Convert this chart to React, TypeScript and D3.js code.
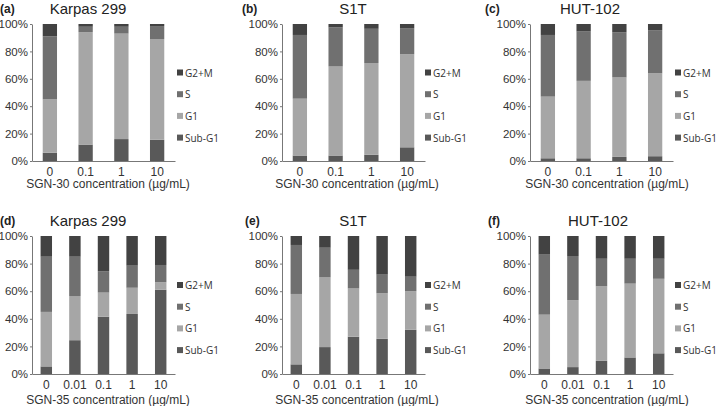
import { useEffect, useRef } from 'react'
import * as d3 from 'd3'

// cell-cycle phases, bottom of the stack first
const phases = ['Sub-G1', 'G1', 'S', 'G2+M']
const phaseColors = ['#595959', '#a6a6a6', '#707070', '#424242']

const conc30 = ['0', '0.1', '1', '10']
const conc35 = ['0', '0.01', '0.1', '1', '10']

// % of cells per phase [Sub-G1, G1, S, G2+M] for each concentration
const karpas30 = [
  [6, 39, 46, 9],
  [12, 82, 4, 2],
  [16, 77, 5, 2],
  [15.5, 73.5, 9.5, 1.5],
]
const s1t30 = [
  [4, 41.5, 46.5, 8],
  [4, 65, 28.5, 2.5],
  [4.5, 67, 25, 3.5],
  [10, 68, 19, 3],
]
const hut30 = [
  [2, 45, 45, 8],
  [2, 56.5, 36, 5.5],
  [3, 58, 33, 6],
  [3.5, 60.5, 31.5, 4.5],
]
const karpas35 = [
  [5.5, 39.5, 40, 15],
  [24.5, 32, 28.5, 15],
  [41.5, 17.5, 15.5, 25.5],
  [43.5, 19, 16, 21.5],
  [61, 5.5, 12.5, 21],
]
const s1t35 = [
  [7, 51, 35.5, 6.5],
  [19.5, 50.5, 21.5, 8.5],
  [27, 35, 13.5, 24.5],
  [25.5, 33, 13.5, 28],
  [32, 28, 10.5, 29.5],
]
const hut35 = [
  [4, 39, 43.5, 13.5],
  [5, 48.5, 32, 14.5],
  [9.5, 54, 20, 16.5],
  [12, 53.5, 18, 16.5],
  [15, 54, 14.5, 16.5],
]

const yTicks = [0, 20, 40, 60, 80, 100]

const panels = [
  { tag: '(a)', title: 'Karpas 299', drug: 'SGN-30', cats: conc30, values: karpas30 },
  { tag: '(b)', title: 'S1T', drug: 'SGN-30', cats: conc30, values: s1t30 },
  { tag: '(c)', title: 'HUT-102', drug: 'SGN-30', cats: conc30, values: hut30 },
  { tag: '(d)', title: 'Karpas 299', drug: 'SGN-35', cats: conc35, values: karpas35 },
  { tag: '(e)', title: 'S1T', drug: 'SGN-35', cats: conc35, values: s1t35 },
  { tag: '(f)', title: 'HUT-102', drug: 'SGN-35', cats: conc35, values: hut35 },
]

// placement of each panel on the page
const layout = [
  { left: 32, right: 175, top: 24, bottom: 161, tagX: 0, titleX: 88, titleY: 14, xTitleY: 188, xTitleX: 108, legX: 177 },
  { left: 282, right: 425, top: 24, bottom: 161, tagX: 242, titleX: 353, titleY: 14, xTitleY: 188, xTitleX: 357, legX: 425 },
  { left: 530, right: 673, top: 24, bottom: 161, tagX: 485, titleX: 590, titleY: 14, xTitleY: 188, xTitleX: 607, legX: 675 },
  { left: 32, right: 175, top: 236, bottom: 374, tagX: 0, titleX: 88, titleY: 226, xTitleY: 404, xTitleX: 108, legX: 177 },
  { left: 282, right: 425, top: 236, bottom: 374, tagX: 245, titleX: 353, titleY: 226, xTitleY: 404, xTitleX: 357, legX: 425 },
  { left: 530, right: 673, top: 236, bottom: 374, tagX: 488, titleX: 598, titleY: 226, xTitleY: 404, xTitleX: 607, legX: 675 },
]

const FONT = '"Liberation Sans", Arial, sans-serif'
const LEGEND_FONT = '"Open Sans", "Noto Sans", sans-serif'

export default function App() {
  const svgRef = useRef<SVGSVGElement>(null)

  useEffect(() => {
    if (!svgRef.current) return
    const root = d3.select(svgRef.current)
    root.selectAll('*').remove()

    panels.forEach((p, i) => {
      const L = layout[i]
      const g = root.append('g')

      const x = d3
        .scaleBand()
        .domain(p.cats)
        .range([L.left, L.right])
        .paddingInner(0.6)
        .paddingOuter(0.3)
      const y = d3.scaleLinear().domain([0, 100]).range([L.bottom, L.top])

      const rows = p.values.map((v, j) => {
        const r: Record<string, number | string> = { cat: p.cats[j] }
        phases.forEach((ph, k) => (r[ph] = v[k]))
        return r
      })
      const series = d3.stack<Record<string, number | string>>().keys(phases)(rows)

      series.forEach((s, k) => {
        g.append('g')
          .attr('fill', phaseColors[k])
          .selectAll('rect')
          .data(s)
          .join('rect')
          .attr('x', (d) => x(d.data.cat as string) ?? 0)
          .attr('width', x.bandwidth())
          .attr('y', (d) => y(d[1]))
          .attr('height', (d) => y(d[0]) - y(d[1]))
      })

      // y axis
      g.append('g')
        .attr('transform', `translate(${L.left},0)`)
        .call(
          d3
            .axisLeft(y)
            .tickValues(yTicks)
            .tickFormat((d) => `${d}%`)
            .tickSize(2)
            .tickSizeOuter(0)
            .tickPadding(2)
        )
        .call((a) => a.select('.domain').attr('stroke', '#777'))
        .call((a) => a.selectAll('.tick line').attr('stroke', '#777'))
        .call((a) =>
          a
            .selectAll('.tick text')
            .attr('fill', '#333')
            .attr('font-size', '11.5px')
            .attr('font-family', FONT)
        )

      // x axis
      g.append('g')
        .attr('transform', `translate(0,${L.bottom})`)
        .call(d3.axisBottom(x).tickSize(0).tickSizeOuter(0).tickPadding(6))
        .call((a) => a.select('.domain').attr('stroke', '#777'))
        .call((a) =>
          a
            .selectAll('.tick text')
            .attr('fill', '#333')
            .attr('font-size', '12px')
            .attr('font-family', FONT)
        )

      g.append('text')
        .attr('x', L.xTitleX)
        .attr('y', L.xTitleY)
        .attr('text-anchor', 'middle')
        .attr('fill', '#333')
        .attr('font-size', '12px')
        .attr('font-family', FONT)
        .text(`${p.drug} concentration (µg/mL)`)

      // panel label and title
      g.append('text')
        .attr('x', L.tagX)
        .attr('y', L.titleY - 1)
        .attr('fill', '#222')
        .attr('font-size', '12px')
        .attr('font-weight', 'bold')
        .attr('font-family', FONT)
        .text(p.tag)

      g.append('text')
        .attr('x', L.titleX)
        .attr('y', L.titleY)
        .attr('text-anchor', 'middle')
        .attr('fill', '#222')
        .attr('font-size', '15px')
        .attr('font-family', FONT)
        .text(p.title)

      // legend, top entry is the top of the stack
      const mid = (L.top + L.bottom) / 2
      const legend = g
        .append('g')
        .selectAll('g')
        .data(phases.slice().reverse())
        .join('g')
        .attr('transform', (_, k) => `translate(${L.legX},${mid - 20 + k * 21.7})`)
      legend
        .append('rect')
        .attr('x', 0)
        .attr('y', -3)
        .attr('width', 6)
        .attr('height', 6)
        .attr('fill', (d) => phaseColors[phases.indexOf(d)])
      legend
        .append('text')
        .attr('x', 8)
        .attr('y', 4)
        .attr('fill', '#333')
        .attr('font-size', '10px')
        .attr('font-family', LEGEND_FONT)
        .text((d) => d)
    })
  }, [])

  return (
    <svg
      ref={svgRef}
      width={720}
      height={406}
      style={{ position: 'absolute', left: 0, top: 0, background: '#fff' }}
    />
  )
}
